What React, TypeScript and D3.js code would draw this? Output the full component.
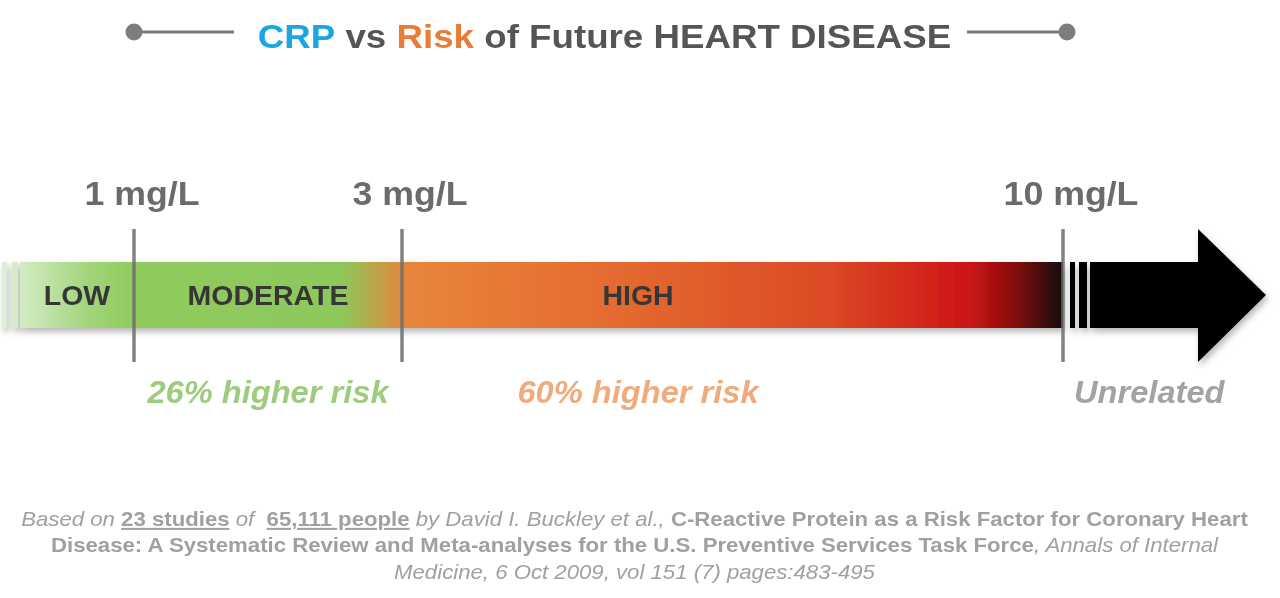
import React from "react";
import * as d3 from "d3";

// ---- data ----
const thresholds = [1, 3, 10];
const tickLabels = ["1 mg/L", "3 mg/L", "10 mg/L"];
const zoneNames = ["LOW", "MODERATE", "HIGH"];
const zoneLabelAt = [0.5, 2, 5.5]; // mg/L position of the zone label
const riskLabels = ["26% higher risk", "60% higher risk", "Unrelated"];
const riskLabelAt = [2, 5.5, 10.85];
const riskColors = ["#9dcc7f", "#f0ab7c", "#a3a3a3"];

const W = 1280;
const H = 598;
const FONT = "'Liberation Sans', Arial, Helvetica, sans-serif";

function Stretch({ cx, sx, children }: { cx: number; sx: number; children: React.ReactNode }) {
  return <g transform={`translate(${cx},0) scale(${sx},1) translate(${-cx},0)`}>{children}</g>;
}

export default function App() {
  // piecewise scale mg/L -> x
  const x = d3.scaleLinear().domain([0, 1, 3, 10, 12]).range([20, 134, 402, 1063, 1266]);
  const barTop = 262;
  const barBot = 328;
  const barMid = (barTop + barBot) / 2;
  const tickTop = 229;
  const tickBot = 362;

  const gradStops: [number, string][] = [
    [0, "#d3ecc3"],
    [0.6, "#a2d57a"],
    [1, "#8fcb5d"],
    [2.55, "#8cc85a"],
    [3.05, "#e8853b"],
    [5, "#e56e31"],
    [7.5, "#dc4a26"],
    [9.0, "#cd1414"],
    [9.45, "#8d0e0e"],
    [10, "#140707"],
  ];
  const x0 = x(0);
  const x1 = x(10);

  const arrowBody = x(10) + 27;
  const headX = 1198;
  const tipX = x(12);
  const arrowPath = d3.path();
  arrowPath.moveTo(arrowBody, barTop);
  arrowPath.lineTo(headX, barTop);
  arrowPath.lineTo(headX, tickTop);
  arrowPath.lineTo(tipX, barMid);
  arrowPath.lineTo(headX, tickBot);
  arrowPath.lineTo(headX, barBot);
  arrowPath.lineTo(arrowBody, barBot);
  arrowPath.closePath();

  const grey = "#a0a0a0";

  return (
    <div style={{ position: "fixed", left: 0, top: 0 }}>
      <svg width={W} height={H} style={{ display: "block", fontFamily: FONT }}>
        <defs>
          <linearGradient id="barGrad" gradientUnits="userSpaceOnUse" x1={x0} x2={x1} y1={0} y2={0}>
            {gradStops.map(([v, c], i) => (
              <stop key={i} offset={(x(v) - x0) / (x1 - x0)} stopColor={c} />
            ))}
          </linearGradient>
          <filter id="shadow" x="-5%" y="-30%" width="110%" height="160%">
            <feDropShadow dx="2" dy="4" stdDeviation="3" floodColor="#000" floodOpacity="0.28" />
          </filter>
        </defs>

        {/* title */}
        <g>
          <line x1={134} x2={234} y1={32} y2={32} stroke="#7a7a7a" strokeWidth={3} />
          <circle cx={134} cy={32} r={8.5} fill="#7d7d7d" />
          <line x1={967} x2={1067} y1={32} y2={32} stroke="#7a7a7a" strokeWidth={3} />
          <circle cx={1067} cy={32} r={8.5} fill="#7d7d7d" />
          <Stretch cx={604.5} sx={1.13}>
            <text x={604.5} y={48} textAnchor="middle" fontSize={32.5} fontWeight="bold" fill="#555555">
              <tspan fill="#1ba6e0">CRP</tspan>
              <tspan> vs </tspan>
              <tspan fill="#e97c36">Risk</tspan>
              <tspan> of Future HEART DISEASE</tspan>
            </text>
          </Stretch>
        </g>

        {/* bar */}
        <g filter="url(#shadow)">
          <rect x={2} y={barTop} width={5} height={barBot - barTop} fill="#dfeed6" />
          <rect x={12} y={barTop} width={6} height={barBot - barTop} fill="#d6ebc8" />
          <rect x={x0} y={barTop} width={x1 - x0} height={barBot - barTop} fill="url(#barGrad)" />
          <rect x={x(10) + 7} y={barTop} width={5} height={barBot - barTop} fill="#000" />
          <rect x={x(10) + 16} y={barTop} width={8} height={barBot - barTop} fill="#000" />
          <path d={arrowPath.toString()} fill="#000" />
        </g>

        {/* thresholds */}
        {thresholds.map((t, i) => (
          <g key={i}>
            <line x1={x(t)} x2={x(t)} y1={tickTop} y2={tickBot} stroke="#6e6e6e" strokeWidth={3.5} opacity={0.85} />
            <Stretch cx={x(t) + 8} sx={1.05}>
              <text x={x(t) + 8} y={205} textAnchor="middle" fontSize={34} fontWeight="bold" fill="#6b6b6b">
                {tickLabels[i]}
              </text>
            </Stretch>
          </g>
        ))}

        {/* zone labels */}
        {zoneNames.map((z, i) => (
          <text key={z} x={x(zoneLabelAt[i])} y={305} textAnchor="middle" fontSize={28.5} fontWeight="bold" fill="#363636">
            {z}
          </text>
        ))}

        {/* risk labels */}
        {riskLabels.map((r, i) => (
          <Stretch key={r} cx={x(riskLabelAt[i])} sx={1.07}>
            <text x={x(riskLabelAt[i])} y={403} textAnchor="middle" fontSize={30.5} fontWeight="bold" fontStyle="italic" fill={riskColors[i]}>
              {r}
            </text>
          </Stretch>
        ))}

        {/* footnote */}
        <Stretch cx={634.5} sx={1.11}>
          <g fontSize={20} fill={grey} textAnchor="middle">
            <text x={634.5} y={526}>
              <tspan fontStyle="italic">Based on </tspan>
              <tspan fontWeight="bold" textDecoration="underline">23 studies</tspan>
              <tspan fontStyle="italic">{" of \u00a0"}</tspan>
              <tspan fontWeight="bold" textDecoration="underline">65,111 people</tspan>
              <tspan fontStyle="italic"> by David I. Buckley et al.,</tspan>
              <tspan fontWeight="bold"> C-Reactive Protein as a Risk Factor for Coronary Heart</tspan>
            </text>
            <text x={634.5} y={552}>
              <tspan fontWeight="bold">Disease: A Systematic Review and Meta-analyses for the U.S. Preventive Services Task Force</tspan>
              <tspan fontStyle="italic">, Annals of Internal</tspan>
            </text>
            <text x={634.5} y={579}>
              <tspan fontStyle="italic">Medicine, 6 Oct 2009, vol 151 (7) pages:483-495</tspan>
            </text>
          </g>
        </Stretch>
      </svg>
    </div>
  );
}
